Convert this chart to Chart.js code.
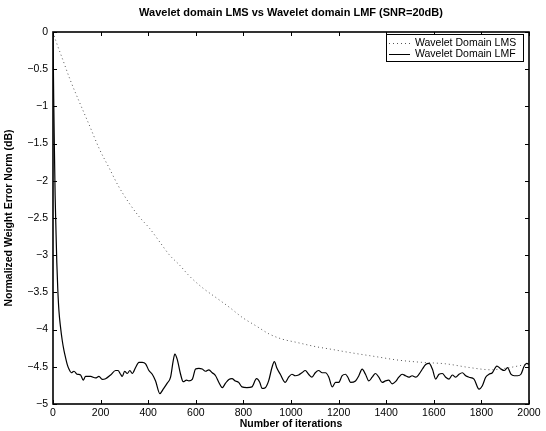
<!DOCTYPE html>
<html lang="en">
  <head>
    <meta charset="UTF-8" />
    <title>Wavelet domain LMS vs LMF</title>
    <script src="https://cdn.jsdelivr.net/npm/chart.js"></script>
    <style>
      html, body { margin: 0; padding: 0; background: #fff; }
      #wrap { width: 546px; height: 431px; }
    </style>
  </head>
  <body>
    <div id="wrap"><canvas id="myChart" width="546" height="431"></canvas></div>

    <script>
      // valores
      const chartTitle = 'Wavelet domain LMS vs Wavelet domain LMF (SNR=20dB)'
      const xTitle = 'Number of iterations'
      const yTitle = 'Normalized Weight Error Norm (dB)'
      const seriesNames = ['Wavelet Domain LMS', 'Wavelet Domain LMF']

      const xTicks = [0, 200, 400, 600, 800, 1000, 1200, 1400, 1600, 1800, 2000]
      const yTicks = [-5, -4.5, -4, -3.5, -3, -2.5, -2, -1.5, -1, -0.5, 0]

      // LMS (pontilhado)
      const lmsIter = [0, 11, 42, 73, 112, 151, 196, 238, 273, 322, 364, 406, 448, 490, 531, 573, 629, 685, 741, 797, 853, 909, 965, 1021, 1105, 1161, 1250, 1350, 1450, 1550, 1650, 1750, 1840, 1900, 2000]
      const lmsVal = [0, -0.11, -0.38, -0.65, -0.95, -1.24, -1.58, -1.84, -2.06, -2.31, -2.49, -2.64, -2.82, -3.0, -3.13, -3.28, -3.44, -3.57, -3.7, -3.84, -3.95, -4.06, -4.13, -4.17, -4.23, -4.26, -4.31, -4.36, -4.41, -4.44, -4.46, -4.51, -4.54, -4.52, -4.46]

      // LMF (linha cheia)
      const lmfIter = [0, 3, 6, 9, 12, 16, 20, 25, 31, 39, 46, 53, 60, 67, 77, 88, 102, 116, 127, 137, 158, 179, 193, 207, 221, 242, 263, 273, 284, 291, 301, 312, 323, 333, 347, 361, 375, 389, 403, 417, 431, 449, 463, 480, 494, 505, 512, 522, 536, 547, 561, 571, 585, 599, 613, 627, 641, 655, 669, 683, 697, 711, 725, 739, 752, 766, 780, 794, 815, 836, 855, 869, 878, 892, 906, 920, 930, 941, 955, 976, 990, 1004, 1018, 1032, 1046, 1060, 1074, 1088, 1102, 1116, 1131, 1145, 1159, 1173, 1187, 1200, 1215, 1229, 1239, 1250, 1271, 1285, 1299, 1313, 1327, 1341, 1355, 1369, 1383, 1397, 1411, 1425, 1439, 1453, 1467, 1481, 1495, 1509, 1524, 1538, 1552, 1566, 1580, 1594, 1608, 1622, 1636, 1650, 1664, 1678, 1692, 1706, 1720, 1734, 1748, 1769, 1790, 1804, 1818, 1832, 1846, 1865, 1882, 1896, 1910, 1924, 1938, 1952, 1966, 1980, 1991, 2000]
      const lmfVal = [-0.02, -0.9, -1.6, -2.2, -2.6, -3.1, -3.45, -3.75, -3.95, -4.15, -4.28, -4.38, -4.47, -4.53, -4.58, -4.56, -4.6, -4.61, -4.68, -4.63, -4.63, -4.65, -4.63, -4.67, -4.66, -4.61, -4.55, -4.55, -4.6, -4.63, -4.56, -4.59, -4.55, -4.59, -4.51, -4.44, -4.44, -4.46, -4.55, -4.6, -4.69, -4.86, -4.8, -4.72, -4.64, -4.42, -4.33, -4.4, -4.6, -4.7, -4.68, -4.69, -4.67, -4.53, -4.52, -4.53, -4.56, -4.54, -4.58, -4.62, -4.71, -4.78, -4.72, -4.67, -4.66, -4.69, -4.71, -4.77, -4.78, -4.77, -4.66, -4.71, -4.79, -4.78, -4.69, -4.51, -4.43, -4.52, -4.6, -4.71, -4.64, -4.6, -4.62, -4.61, -4.58, -4.55, -4.6, -4.64, -4.58, -4.55, -4.58, -4.58, -4.64, -4.77, -4.71, -4.71, -4.62, -4.6, -4.64, -4.71, -4.69, -4.62, -4.53, -4.6, -4.69, -4.64, -4.59, -4.64, -4.71, -4.69, -4.68, -4.73, -4.7, -4.64, -4.6, -4.62, -4.64, -4.62, -4.64, -4.6, -4.53, -4.47, -4.455, -4.53, -4.665, -4.6, -4.59, -4.64, -4.665, -4.61, -4.64, -4.6, -4.58, -4.62, -4.64, -4.665, -4.8, -4.755, -4.64, -4.6, -4.58, -4.49, -4.53, -4.55, -4.51, -4.6, -4.62, -4.62, -4.6, -4.49, -4.455, -4.47]

      const fonte = "'Liberation Sans', Arial, Helvetica, sans-serif"

      function pares(xs, ys) {
        return xs.map((x, i) => ({ x: x, y: ys[i] }))
      }

      function rotuloY(v) {
        if (v === 0) return '0'
        return (v < 0 ? '\u2212' : '') + Math.abs(v)
      }

      // moldura, ticks para dentro, legenda e título (estilo MATLAB)
      const molduraPlugin = {
        id: 'moldura',
        afterDatasetsDraw(chart) {
          const ctx = chart.ctx
          const a = chart.chartArea
          const sx = chart.scales.x
          const sy = chart.scales.y
          ctx.save()
          ctx.strokeStyle = '#000'
          ctx.lineWidth = 1
          ctx.beginPath()
          xTicks.forEach(v => {
            const px = Math.round(sx.getPixelForValue(v)) + 0.5
            ctx.moveTo(px, a.bottom); ctx.lineTo(px, a.bottom - 4)
            ctx.moveTo(px, a.top); ctx.lineTo(px, a.top + 4)
          })
          yTicks.forEach(v => {
            const py = Math.round(sy.getPixelForValue(v)) + 0.5
            ctx.moveTo(a.left, py); ctx.lineTo(a.left + 4, py)
            ctx.moveTo(a.right, py); ctx.lineTo(a.right - 4, py)
          })
          ctx.stroke()
          ctx.lineWidth = 1.6
          ctx.strokeRect(a.left, a.top, a.right - a.left, a.bottom - a.top)

          // legenda
          const lx = a.right - 143, ly = a.top + 2, lw = 137, lh = 27
          ctx.fillStyle = '#fff'
          ctx.fillRect(lx, ly, lw, lh)
          ctx.lineWidth = 1
          ctx.strokeRect(lx + 0.5, ly + 0.5, lw, lh)
          ctx.font = '10.5px ' + fonte
          ctx.textBaseline = 'middle'
          ctx.textAlign = 'left'
          chart.data.datasets.forEach((ds, i) => {
            const yy = ly + 9 + i * 11
            ctx.beginPath()
            ctx.strokeStyle = ds.borderColor
            ctx.lineWidth = 1
            ctx.setLineDash(ds.borderDash || [])
            ctx.moveTo(lx + 3, yy + 0.5); ctx.lineTo(lx + 24, yy + 0.5)
            ctx.stroke()
            ctx.setLineDash([])
            ctx.fillStyle = '#000'
            ctx.fillText(ds.label, lx + 29, yy)
          })

          // título
          ctx.font = 'bold 11px ' + fonte
          ctx.textAlign = 'center'
          ctx.textBaseline = 'middle'
          ctx.fillStyle = '#000'
          ctx.fillText(chartTitle, (a.left + a.right) / 2, 13)
          ctx.restore()
        }
      }

      const dados = {
        datasets: [
          {
            label: seriesNames[0],
            data: pares(lmsIter, lmsVal),
            borderColor: '#555',
            borderWidth: 1,
            borderDash: [1, 3],
            pointRadius: 0,
            cubicInterpolationMode: 'monotone',
            fill: false
          },
          {
            label: seriesNames[1],
            data: pares(lmfIter, lmfVal),
            borderColor: '#000',
            borderWidth: 1.2,
            pointRadius: 0,
            cubicInterpolationMode: 'monotone',
            fill: false
          }
        ]
      }

      const config = {
        type: 'line',
        data: dados,
        options: {
          responsive: false,
          animation: false,
          layout: { padding: { top: 32, right: 17, left: 0, bottom: 0 } },
          plugins: {
            legend: { display: false },
            tooltip: { enabled: false }
          },
          scales: {
            x: {
              type: 'linear',
              min: 0,
              max: 2000,
              afterBuildTicks: s => { s.ticks = xTicks.map(v => ({ value: v })) },
              afterFit: s => { s.height = 27 },
              grid: { display: false, drawTicks: false },
              border: { display: false },
              ticks: {
                color: '#000',
                font: { family: fonte, size: 10.5 },
                padding: 3,
                maxRotation: 0,
                autoSkip: false,
                callback: v => String(v)
              },
              title: {
                display: true,
                text: xTitle,
                color: '#000',
                font: { family: fonte, size: 10.5, weight: 'bold' },
                padding: { top: 0, bottom: 1 }
              }
            },
            y: {
              type: 'linear',
              min: -5,
              max: 0,
              afterBuildTicks: s => { s.ticks = yTicks.map(v => ({ value: v })) },
              afterFit: s => { s.width = 53 },
              grid: { display: false, drawTicks: false },
              border: { display: false },
              ticks: {
                color: '#000',
                font: { family: fonte, size: 10.5 },
                padding: 5,
                autoSkip: false,
                callback: v => rotuloY(v)
              },
              title: {
                display: true,
                text: yTitle,
                color: '#000',
                font: { family: fonte, size: 10.5, weight: 'bold' },
                padding: { top: 3, bottom: 0 }
              }
            }
          }
        },
        plugins: [molduraPlugin]
      }

      const myChart = new Chart(document.getElementById('myChart'), config)
    </script>
  </body>
</html>
